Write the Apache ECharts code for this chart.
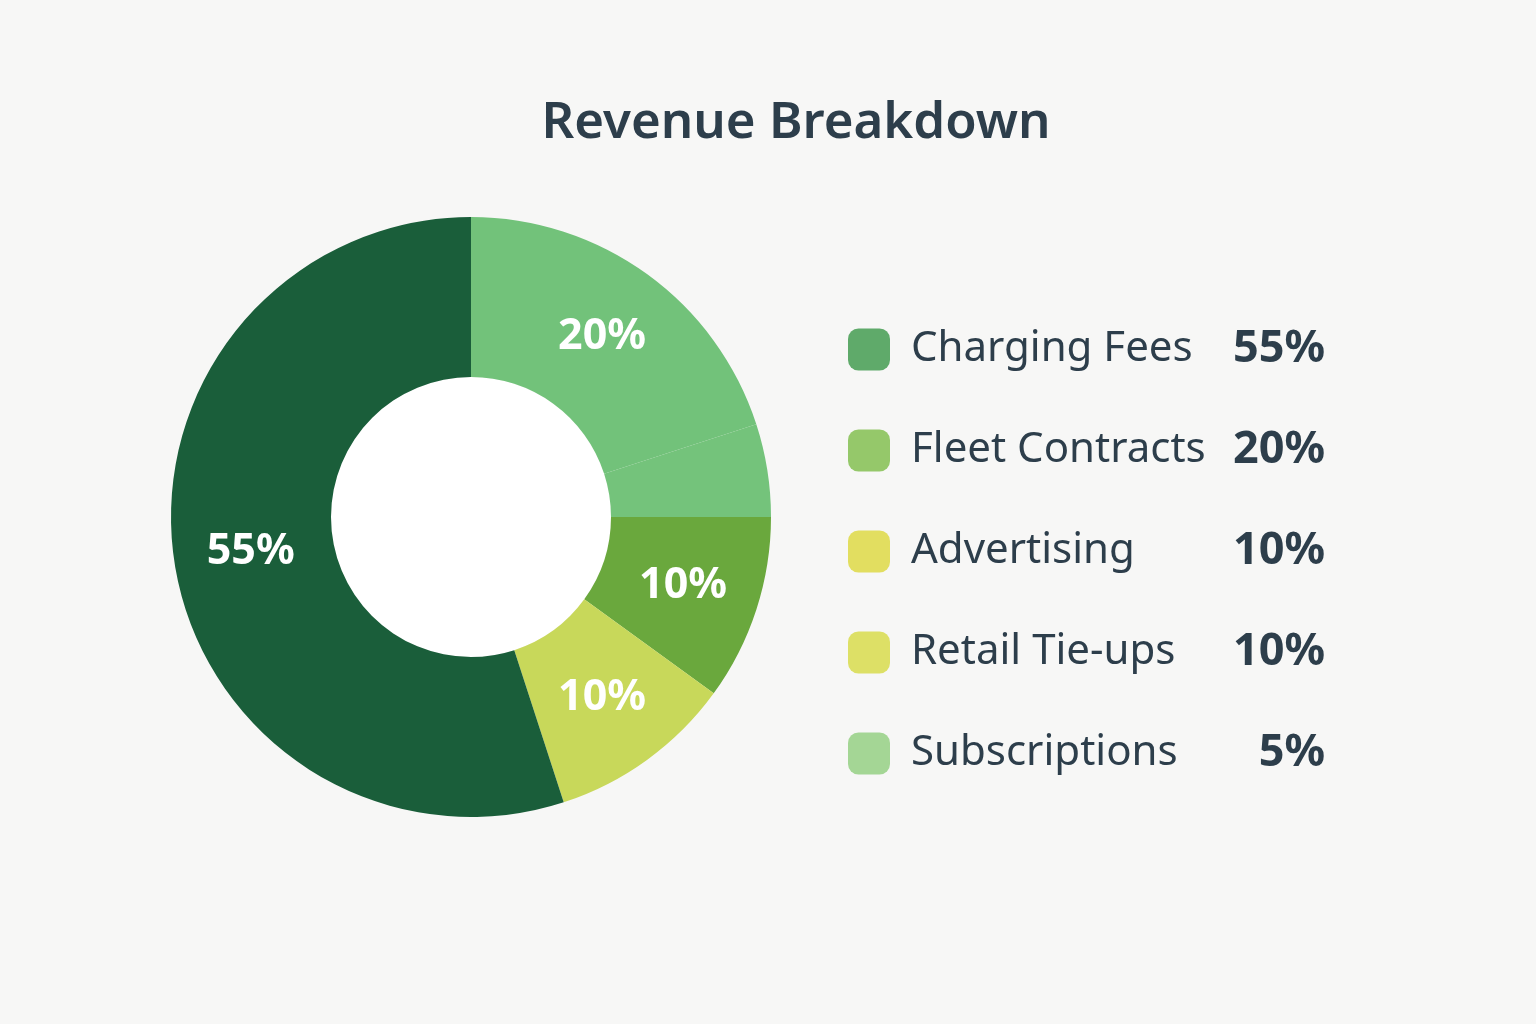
<!DOCTYPE html>
<html>
<head>
<meta charset="utf-8">
<script src="https://cdn.jsdelivr.net/npm/echarts@6/dist/echarts.min.js"></script>
<style>
html,body{margin:0;padding:0;background:#F7F7F6;}
#chart{width:1536px;height:1024px;}
</style>
</head>
<body>
<div id="chart"></div>
<script>
// Legend order / values
const legendNames = ['Charging Fees', 'Fleet Contracts', 'Advertising', 'Retail Tie-ups', 'Subscriptions'];
const legendValues = [55, 20, 10, 10, 5];
const legendColors = ['#5FAA6A', '#95C86A', '#E2DE60', '#DDE066', '#A4D695'];

// Ring order (clockwise from 12 o'clock)
const sliceNames = ['Fleet Contracts', 'Subscriptions', 'Advertising', 'Retail Tie-ups', 'Charging Fees'];
const sliceValues = [20, 5, 10, 10, 55];
const sliceColors = ['#72C27A', '#74C37B', '#6AA83D', '#C8D85A', '#1A5E3A'];
const sliceLabelShown = [true, false, true, true, true];

const chart = echarts.init(document.getElementById('chart'));
const valueOf = {};
legendNames.forEach((n, i) => valueOf[n] = legendValues[i]);

chart.setOption({
  backgroundColor: '#F7F7F6',
  animation: false,
  title: {
    text: 'Revenue Breakdown',
    left: 791,
    textAlign: 'center',
    top: 93,
    textStyle: {
      fontFamily: 'Noto Sans',
      fontSize: 51,
      fontWeight: 600,
      color: '#2D3E4B'
    }
  },
  legend: {
    orient: 'vertical',
    left: 848,
    top: 327,
    padding: 0,
    itemWidth: 42,
    itemHeight: 42,
    itemGap: 56,
    icon: 'roundRect',
    selectedMode: false,
    data: legendNames.map((n, i) => ({
      name: n,
      itemStyle: { color: legendColors[i], borderRadius: 8 }
    })),
    formatter: function (name) {
      return '{n|' + name + '}{p|' + valueOf[name] + '%}';
    },
    textStyle: {
      rich: {
        n: {
          fontFamily: 'Noto Sans',
          fontSize: 42,
          color: '#2D3E4B',
          width: 312,
          padding: [0, 0, 0, 16],
          lineHeight: 42
        },
        p: {
          fontFamily: 'Noto Sans',
          fontSize: 45,
          fontWeight: 'bold',
          color: '#2D3E4B',
          width: 102,
          align: 'right',
          lineHeight: 42
        }
      }
    }
  },
  series: [{
    type: 'pie',
    center: [471, 517],
    radius: [0, 140],
    silent: true,
    label: { show: false },
    labelLine: { show: false },
    itemStyle: { color: '#FFFFFF' },
    data: [{ name: 'hole', value: 1 }]
  }, {
    type: 'pie',
    center: [471, 517],
    radius: [140, 300],
    startAngle: 90,
    clockwise: true,
    avoidLabelOverlap: false,
    emphasis: { disabled: true },
    label: {
      show: true,
      position: 'inside',
      formatter: '{c}%',
      color: '#FFFFFF',
      fontFamily: 'Noto Sans',
      fontSize: 43,
      fontWeight: 'bold'
    },
    labelLine: { show: false },
    itemStyle: { borderWidth: 0 },
    data: sliceNames.map((n, i) => ({
      name: n,
      value: sliceValues[i],
      itemStyle: { color: sliceColors[i] },
      label: { show: sliceLabelShown[i] }
    }))
  }]
});
</script>
</body>
</html>
